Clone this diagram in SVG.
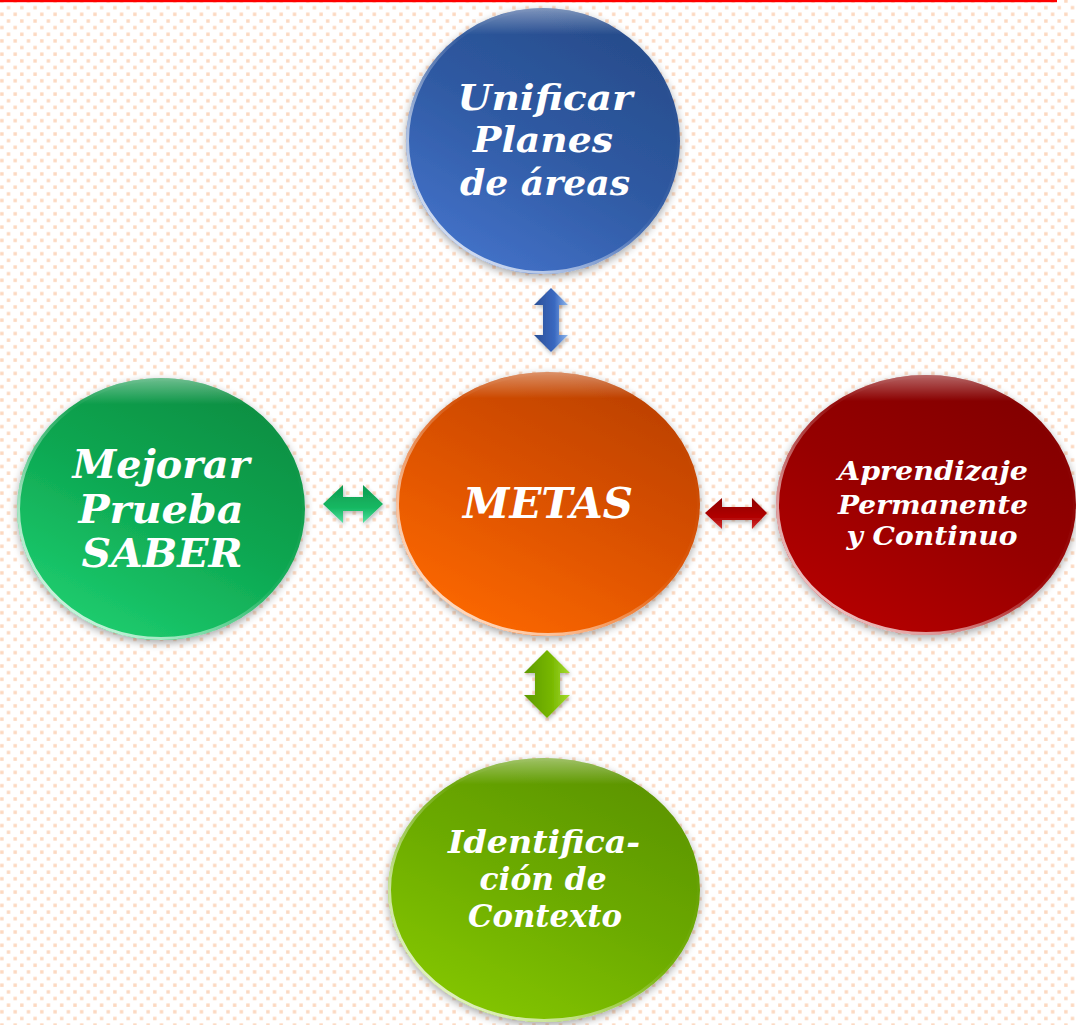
<svg xmlns="http://www.w3.org/2000/svg" width="1076" height="1025" viewBox="0 0 1076 1025">
<defs>
<pattern id="dots" width="13.3" height="13.3" patternUnits="userSpaceOnUse">
<rect x="6.8" y="6" width="3.4" height="3.4" fill="#fcd8c0"/>
<rect x="0.2" y="12.6" width="3.4" height="3.4" fill="#fcd8c0"/>
<rect x="0.2" y="-0.7" width="3.4" height="3.4" fill="#fcd8c0"/>
</pattern>
<filter id="sh" x="-20%" y="-20%" width="140%" height="140%">
<feDropShadow dx="0" dy="3" stdDeviation="4" flood-color="#000" flood-opacity="0.35"/>
</filter>
<filter id="ash" x="-30%" y="-30%" width="160%" height="160%">
<feDropShadow dx="1" dy="2" stdDeviation="2" flood-color="#000" flood-opacity="0.3"/>
</filter>
<linearGradient id="gBlue" x1="0.8" y1="0" x2="0.2" y2="1"><stop offset="0" stop-color="#264a88"/><stop offset="0.5" stop-color="#2f5aa3"/><stop offset="1" stop-color="#4574cc"/></linearGradient>
<linearGradient id="gOrange" x1="0.8" y1="0" x2="0.2" y2="1"><stop offset="0" stop-color="#b93f00"/><stop offset="0.5" stop-color="#dc5200"/><stop offset="1" stop-color="#ff6a00"/></linearGradient>
<linearGradient id="gGreen" x1="0.8" y1="0" x2="0.2" y2="1"><stop offset="0" stop-color="#078c40"/><stop offset="0.5" stop-color="#0ea852"/><stop offset="1" stop-color="#1fd172"/></linearGradient>
<linearGradient id="gRed" x1="0.8" y1="0" x2="0.2" y2="1"><stop offset="0" stop-color="#800000"/><stop offset="0.5" stop-color="#960000"/><stop offset="1" stop-color="#b80303"/></linearGradient>
<linearGradient id="gLime" x1="0.8" y1="0" x2="0.2" y2="1"><stop offset="0" stop-color="#5a9200"/><stop offset="0.5" stop-color="#6cab00"/><stop offset="1" stop-color="#86c800"/></linearGradient>
<linearGradient id="rim" x1="0.9" y1="0.1" x2="0.1" y2="0.9"><stop offset="0" stop-color="#fff" stop-opacity="0"/><stop offset="0.45" stop-color="#fff" stop-opacity="0.05"/><stop offset="0.8" stop-color="#fff" stop-opacity="0.6"/><stop offset="1" stop-color="#fff" stop-opacity="0.8"/></linearGradient>
<linearGradient id="rimTop" x1="0" y1="0" x2="0" y2="1"><stop offset="0" stop-color="#fff" stop-opacity="0.4"/><stop offset="0.1" stop-color="#fff" stop-opacity="0"/></linearGradient>
<linearGradient id="aBlue" x1="0" y1="0" x2="1" y2="0"><stop offset="0" stop-color="#2a4f96"/><stop offset="0.6" stop-color="#3a68c0"/><stop offset="1" stop-color="#8fb8ee"/></linearGradient>
<linearGradient id="aGreen" x1="0" y1="0" x2="0" y2="1"><stop offset="0" stop-color="#0e9a50"/><stop offset="0.6" stop-color="#15b862"/><stop offset="1" stop-color="#50e0a0"/></linearGradient>
<linearGradient id="aRed" x1="0" y1="0" x2="0" y2="1"><stop offset="0" stop-color="#8e0000"/><stop offset="0.6" stop-color="#b00000"/><stop offset="1" stop-color="#d23030"/></linearGradient>
<linearGradient id="aLime" x1="0" y1="0" x2="1" y2="0"><stop offset="0" stop-color="#5c9a00"/><stop offset="0.6" stop-color="#78b800"/><stop offset="1" stop-color="#a6dc30"/></linearGradient>
</defs>
<style>
.t{font-family:"DejaVu Serif","Liberation Serif",serif;font-weight:bold;font-style:italic;fill:#fff;text-anchor:middle}
.rim{fill:none;stroke:url(#rim);stroke-width:3}
.top{fill:url(#rimTop)}
</style>
<rect x="0" y="0" width="1076" height="1025" fill="#fff"/>
<rect x="0" y="0" width="1076" height="1025" fill="url(#dots)"/>
<rect x="0" y="0" width="1057" height="2.2" fill="#ff0000"/>

<g id="connectors" filter="url(#ash)">
<polygon fill="url(#aBlue)" points="551,288 568,305 559,305 559,335 568,335 551,352 534,335 543,335 543,305 534,305"/>
<polygon fill="url(#aGreen)" points="323,504 343,485 343,497 363,497 363,485 383,504 363,523 363,511 343,511 343,523"/>
<polygon fill="url(#aRed)" points="705,513 722,498 722,507 752,507 752,498 767,513 752,529 752,520 722,520 722,529"/>
<polygon fill="url(#aLime)" points="547,650 570,673 560,673 560,695 570,695 547,718 524,695 535,695 535,673 524,673"/>
</g>

<g id="node-unificar">
<ellipse cx="543" cy="141" rx="137" ry="133" fill="url(#gBlue)" filter="url(#sh)"/>
<ellipse cx="543" cy="141" rx="137" ry="133" class="top"/>
<ellipse cx="543" cy="141" rx="135.5" ry="131.5" class="rim"/>
<text class="t" font-size="36" x="545" y="110" textLength="175" lengthAdjust="spacingAndGlyphs">Unificar</text>
<text class="t" font-size="36" x="543" y="152" textLength="140" lengthAdjust="spacingAndGlyphs">Planes</text>
<text class="t" font-size="36" x="545" y="195" textLength="170" lengthAdjust="spacingAndGlyphs">de áreas</text>
</g>

<g id="node-metas">
<ellipse cx="548" cy="504" rx="152" ry="132" fill="url(#gOrange)" filter="url(#sh)"/>
<ellipse cx="548" cy="504" rx="152" ry="132" class="top"/>
<ellipse cx="548" cy="504" rx="150.5" ry="130.5" class="rim"/>
<text class="t" font-size="42" x="548" y="518" textLength="170" lengthAdjust="spacingAndGlyphs">METAS</text>
</g>

<g id="node-mejorar">
<ellipse cx="161" cy="509" rx="144" ry="131" fill="url(#gGreen)" filter="url(#sh)"/>
<ellipse cx="161" cy="509" rx="144" ry="131" class="top"/>
<ellipse cx="161" cy="509" rx="142.5" ry="129.5" class="rim"/>
<text class="t" font-size="40" x="161" y="478" textLength="177" lengthAdjust="spacingAndGlyphs">Mejorar</text>
<text class="t" font-size="40" x="161" y="523" textLength="165" lengthAdjust="spacingAndGlyphs">Prueba</text>
<text class="t" font-size="40" x="162" y="567" textLength="161" lengthAdjust="spacingAndGlyphs">SABER</text>
</g>

<g id="node-aprendizaje">
<ellipse cx="926" cy="505" rx="150" ry="130" fill="url(#gRed)" filter="url(#sh)"/>
<ellipse cx="926" cy="505" rx="150" ry="130" class="top"/>
<ellipse cx="926" cy="505" rx="148.5" ry="128.5" class="rim"/>
<text class="t" font-size="26" x="933" y="480" textLength="190" lengthAdjust="spacingAndGlyphs">Aprendizaje</text>
<text class="t" font-size="26" x="933" y="514" textLength="190" lengthAdjust="spacingAndGlyphs">Permanente</text>
<text class="t" font-size="26" x="932" y="545" textLength="171" lengthAdjust="spacingAndGlyphs">y Continuo</text>
</g>

<g id="node-identificacion">
<ellipse cx="544" cy="890" rx="156" ry="132" fill="url(#gLime)" filter="url(#sh)"/>
<ellipse cx="544" cy="890" rx="156" ry="132" class="top"/>
<ellipse cx="544" cy="890" rx="154.5" ry="130.5" class="rim"/>
<text class="t" font-size="32" x="544" y="853" textLength="192" lengthAdjust="spacingAndGlyphs">Identifica-</text>
<text class="t" font-size="32" x="543" y="890" textLength="127" lengthAdjust="spacingAndGlyphs">ción de</text>
<text class="t" font-size="32" x="545" y="927" textLength="154" lengthAdjust="spacingAndGlyphs">Contexto</text>
</g>
</svg>
